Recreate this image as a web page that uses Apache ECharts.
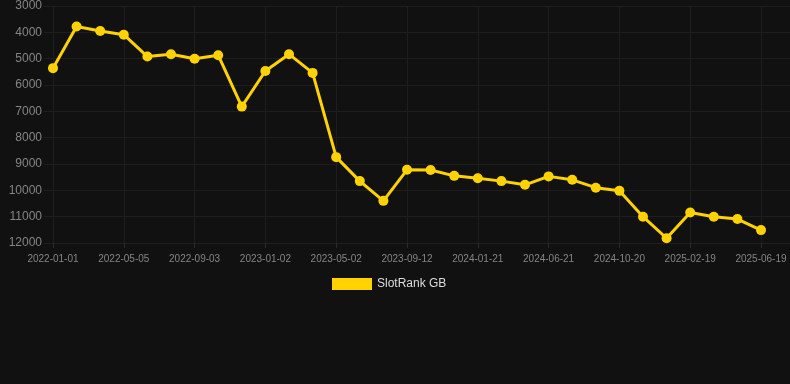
<!DOCTYPE html>
<html>
<head>
<meta charset="utf-8">
<script src="https://cdn.jsdelivr.net/npm/echarts@6/dist/echarts.min.js"></script>
<style>
  html, body { margin: 0; padding: 0; background: #111111; }
  #chart { width: 790px; height: 384px; }
</style>
</head>
<body>
<div id="chart"></div>
<script>
const dates = [
  '2022-01-01', '2022-02-11', '2022-03-24', '2022-05-05', '2022-06-15',
  '2022-07-25', '2022-09-03', '2022-10-14', '2022-11-23', '2023-01-02',
  '2023-02-11', '2023-03-23', '2023-05-02', '2023-06-18', '2023-07-31',
  '2023-09-12', '2023-10-25', '2023-12-08', '2024-01-21', '2024-03-02',
  '2024-05-11', '2024-06-21', '2024-08-01', '2024-09-10', '2024-10-20',
  '2024-12-01', '2025-01-10', '2025-02-19', '2025-03-31', '2025-05-10',
  '2025-06-19'
];

const rankGB = [
  5360, 3780, 3950, 4090, 4920, 4830, 5000, 4870, 6820, 5470,
  4830, 5540, 8740, 9650, 10400, 9220, 9230, 9450, 9540, 9650,
  9790, 9470, 9600, 9900, 10020, 11000, 11820, 10840, 11000, 11090,
  11510
];

const rankMin = 3000;
const rankMax = 12000;
const rankStep = 1000;

const chart = echarts.init(document.getElementById('chart'));

const gridColor = '#1e1e1e';
const labelColor = '#858585';
const lineColor = '#ffd200';

chart.setOption({
  backgroundColor: '#111111',
  textStyle: { fontFamily: 'Liberation Sans, Arial, sans-serif' },
  animation: false,
  // grid 0 only carries the y labels and the full-width horizontal lines
  grid: [
    { left: 44, right: 0, top: 6, bottom: 141 },
    { left: 53, right: 29, top: 6, bottom: 141 }
  ],
  xAxis: [
    { type: 'value', gridIndex: 0, show: false, min: 0, max: 1 },
    {
      type: 'category',
      gridIndex: 1,
      data: dates,
      boundaryGap: false,
      axisLine: { show: false },
      axisTick: {
        show: true,
        interval: 2,
        length: 5,
        lineStyle: { color: '#2a2a2a' }
      },
      axisLabel: {
        interval: 2,
        color: labelColor,
        fontSize: 10,
        margin: 11
      },
      splitLine: {
        show: true,
        interval: 2,
        lineStyle: { color: gridColor }
      }
    }
  ],
  yAxis: [
    {
      type: 'value',
      gridIndex: 0,
      inverse: true,
      min: rankMin,
      max: rankMax,
      interval: rankStep,
      axisLine: { show: false },
      axisTick: { show: false },
      axisLabel: {
        color: labelColor,
        fontSize: 12,
        margin: 2,
        formatter: v => String(v)
      },
      splitLine: { lineStyle: { color: gridColor } }
    },
    {
      type: 'value',
      gridIndex: 1,
      inverse: true,
      min: rankMin,
      max: rankMax,
      interval: rankStep,
      show: false
    }
  ],
  legend: {
    top: 273,
    left: 327,
    icon: 'rect',
    itemWidth: 40,
    itemHeight: 12,
    itemGap: 10,
    textStyle: { color: '#dddddd', fontSize: 12 },
    data: ['SlotRank GB']
  },
  series: [
    {
      name: 'SlotRank GB',
      type: 'line',
      xAxisIndex: 1,
      yAxisIndex: 1,
      data: rankGB,
      symbol: 'circle',
      symbolSize: 10,
      lineStyle: { color: lineColor, width: 3 },
      itemStyle: { color: lineColor }
    }
  ]
});
</script>
</body>
</html>
